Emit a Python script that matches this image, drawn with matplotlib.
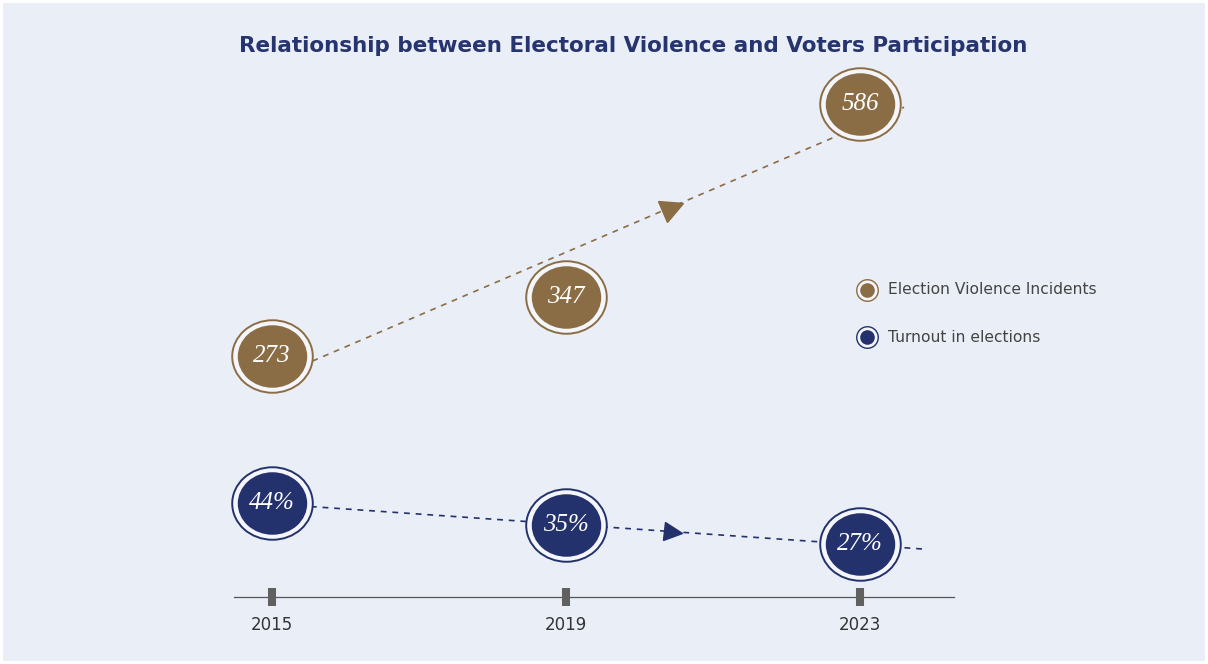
import numpy as np
import matplotlib
matplotlib.use("Agg")
import matplotlib.pyplot as plt
from matplotlib.path import Path
from matplotlib.markers import MarkerStyle
from matplotlib.transforms import Affine2D, blended_transform_factory
from matplotlib.patches import Rectangle

# ---------------- data ----------------
years = [2015, 2019, 2023]
violence = [273, 347, 586]
turnout = [44, 35, 27]
series_names = ["Election Violence Incidents", "Turnout in elections"]
title = "Relationship between Electoral Violence and Voters Participation"

# ---------------- style ----------------
BROWN = "#8B6D45"
NAVY = "#23316C"
BG = "#EAEEF7"
GAP = "#F4F6FB"

W, H = 1208, 664
fig = plt.figure(figsize=(W / 100, H / 100), dpi=100)
fig.patch.set_facecolor("white")
fig.patches.append(Rectangle((3 / W, 3 / H), 1202 / W, 658 / H, transform=fig.transFigure,
                             facecolor=BG, edgecolor="none", zorder=-10))

ax = fig.add_axes([0, 0, 1, 1])
ax.set_facecolor("none")
ax2 = ax.twinx()
ax2.set_facecolor("none")
for a in (ax, ax2):
    a.axis("off")

ax.set_xlim(2011.30, 2027.735)
ax.set_ylim(-108.8, 715.0)
ax2.set_ylim(-22.9, 253.8)

# ellipse marker
ell = Path.unit_circle().transformed(Affine2D().scale(1.0, 0.9))
mk_ell = MarkerStyle(ell)


def draw_series(a, vals, color, fmt, fit_x0, fit_x1, arrow_x, arrow_ms, z):
    # trend line from linear fit
    k, b = np.polyfit(years, vals, 1)
    xs = np.array([fit_x0, fit_x1])
    a.plot(xs, k * xs + b, color=color, lw=1.2, ls=(0, (3.5, 3.5)), zorder=z)
    # arrowhead
    p0 = a.transData.transform((fit_x0, k * fit_x0 + b))
    p1 = a.transData.transform((fit_x1, k * fit_x1 + b))
    ang = np.degrees(np.arctan2(p1[1] - p0[1], p1[0] - p0[0]))
    tri = MarkerStyle(">", transform=Affine2D().rotate_deg(ang))
    a.plot([arrow_x], [k * arrow_x + b], marker=tri, ms=arrow_ms, color=color,
           mec=color, ls="none", zorder=z)
    # circles
    a.plot(years, vals, marker=mk_ell, ms=58, mfc=GAP, mec=color, mew=1.4,
           ls="none", zorder=z + 1)
    a.plot(years, vals, marker=mk_ell, ms=50, mfc=color, mec="none",
           ls="none", zorder=z + 2)
    for x, v in zip(years, vals):
        a.text(x, v, fmt(v), color="white", fontsize=18, style="italic",
               family="Liberation Serif", ha="center", va="center", zorder=z + 3)


draw_series(ax, violence, BROWN, lambda v: f"{v}", 2015.55, 2023.6, 2020.45, 16, 3)
draw_series(ax2, turnout, NAVY, lambda v: f"{v}%", 2015.53, 2023.85, 2020.45, 13, 3)

# timeline axis
tr = blended_transform_factory(ax.transData, ax.transAxes)
ax.plot([2014.483, 2024.279], [67 / H, 67 / H], color="#555555", lw=0.9, transform=tr)
ax.vlines(years, 58 / H, 76 / H, color="#606060", lw=5.8, transform=tr, zorder=2)
for x in years:
    ax.text(x, 39 / H, str(x), transform=tr, ha="center", va="center",
            fontsize=12, color="#333333", family="DejaVu Sans")

# title
fig.text(633 / W, 1 - 46 / H, title, ha="center", va="center", fontsize=15.5,
         fontweight="bold", color="#26346F", family="DejaVu Sans")

# legend
leg_y = [1 - 290 / H, 1 - 337 / H]
for name, col, y in zip(series_names, [BROWN, NAVY], leg_y):
    ax.plot([867 / W], [y], marker="o", ms=15.5, mfc=GAP, mec=col, mew=1.0,
            transform=fig.transFigure, ls="none")
    ax.plot([867 / W], [y], marker="o", ms=10.5, mfc=col, mec="none",
            transform=fig.transFigure, ls="none")
    fig.text(888 / W, y, name, ha="left", va="center", fontsize=11.2, color="#444444",
             family="DejaVu Sans")

fig.savefig("out.png", dpi=100, facecolor=fig.get_facecolor())
